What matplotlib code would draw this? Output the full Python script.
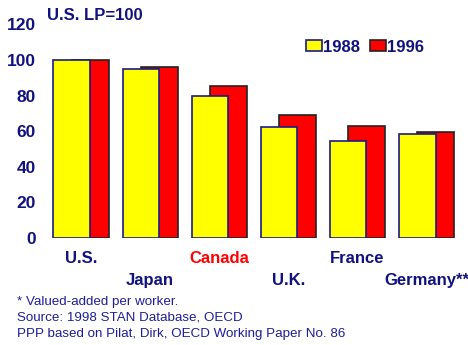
import matplotlib
matplotlib.use("Agg")
import matplotlib.pyplot as plt
from matplotlib.patches import Rectangle
import numpy as np

plt.rcParams['font.family'] = ['Liberation Sans', 'DejaVu Sans']

countries = ["U.S.", "Japan", "Canada", "U.K.", "France", "Germany**"]
lp_1988 = [100.0, 95.1, 79.7, 62.1, 54.4, 58.4]
lp_1996 = [100.3, 96.2, 85.4, 69.0, 62.9, 59.6]
yticks = [0, 20, 40, 60, 80, 100, 120]
notes = ["* Valued-added per worker.",
         "Source: 1998 STAN Database, OECD",
         "PPP based on Pilat, Dirk, OECD Working Paper No. 86"]

NAVY = "#12127e"
YELLOW = "#ffff00"
RED = "#ff0000"

fig = plt.figure(figsize=(4.68, 3.45), dpi=100)
ax = fig.add_axes([40 / 468, 1 - 237.7 / 345, 428 / 468, (237.7 - 24.5) / 345])

x = np.arange(len(countries))
w = 0.53
off = 0.134
# 1996 bars sit behind the 1988 bars
ax.bar(x + off, lp_1996, width=w, color=RED, edgecolor="#222222", linewidth=1.2, zorder=2)
ax.bar(x - off, lp_1988, width=w, color=YELLOW, edgecolor="#1a1a8a", linewidth=1.2, zorder=3)

ax.set_xlim(-0.593, 5.6)
ax.set_ylim(0, 120)
for s in ax.spines.values():
    s.set_visible(False)

ax.set_yticks(yticks)
ax.set_yticklabels([str(v) for v in yticks], fontsize=12.5, fontweight="bold", color=NAVY)
ax.tick_params(axis="y", length=0, pad=3)

ax.set_xticks(x)
ax.set_xticklabels(countries, fontsize=12, fontweight="bold")
ax.tick_params(axis="x", length=0)
for i, (tick, lab) in enumerate(zip(ax.xaxis.get_major_ticks(), ax.get_xticklabels())):
    tick.set_pad(9.5 if i % 2 == 0 else 25.5)
    lab.set_color(RED if countries[i] == "Canada" else NAVY)

fig.text(47 / 468, 1 - 15 / 345, "U.S. LP=100", fontsize=12, fontweight="bold",
         color=NAVY, va="center", ha="left")

# legend
for (lx, col, ec, lab) in [(306, YELLOW, "#1a1a8a", "1988"), (370, RED, "#222222", "1996")]:
    fig.patches.append(Rectangle((lx / 468, 1 - 50.7 / 345), 15.5 / 468, 10.5 / 345,
                                 transform=fig.transFigure, facecolor=col, edgecolor=ec,
                                 linewidth=1.2))
    fig.text((lx + 17.5) / 468, 1 - 47.5 / 345, lab, fontsize=12, fontweight="bold",
             color=NAVY, va="center", ha="left")

for k, line in enumerate(notes):
    fig.text(17 / 468, 1 - (301.7 + 16.3 * k) / 345, line, fontsize=9.6,
             color="#1e1e96", va="center", ha="left")

fig.savefig("out.png", dpi=100)
